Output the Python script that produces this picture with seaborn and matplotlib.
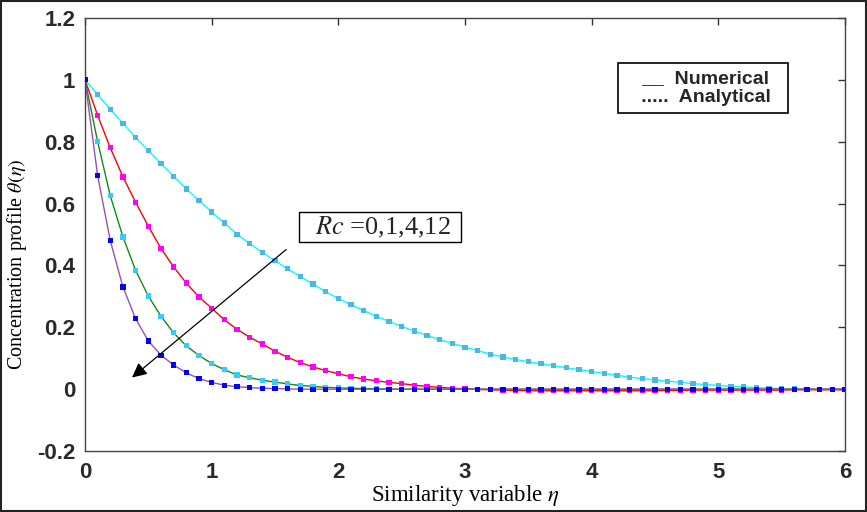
import matplotlib
matplotlib.use('Agg')
import matplotlib.pyplot as plt
import numpy as np
import pandas as pd
import seaborn as sns
from matplotlib.patches import Rectangle

# similarity variable, read every 0.1
eta = np.round(np.arange(0, 6.01, 0.1), 2)

theta_rc0 = [1.000, 0.952, 0.905, 0.859, 0.814, 0.771, 0.729, 0.688, 0.647, 0.610,
             0.573, 0.537, 0.501, 0.471, 0.442, 0.415, 0.389, 0.364, 0.340, 0.315,
             0.293, 0.273, 0.254, 0.236, 0.219, 0.203, 0.188, 0.174, 0.160, 0.148,
             0.136, 0.125, 0.113, 0.104, 0.096, 0.089, 0.082, 0.076, 0.069, 0.063,
             0.057, 0.051, 0.045, 0.039, 0.034, 0.030, 0.026, 0.022, 0.018, 0.015,
             0.012, 0.009, 0.0075, 0.005, 0.003, 0.002, 0.001, 0.0, 0.0, 0.0, 0.0]

theta_rc1 = [1.000, 0.885, 0.780, 0.686, 0.604, 0.527, 0.455, 0.395, 0.343, 0.298,
             0.262, 0.224, 0.194, 0.168, 0.146, 0.123, 0.103, 0.086, 0.072, 0.060,
             0.050, 0.040, 0.033, 0.027, 0.022, 0.018, 0.013, 0.009, 0.006, 0.003,
             0.001, -0.001, -0.002, -0.003, -0.004, -0.005, -0.005, -0.005, -0.005, -0.005,
             -0.005, -0.005, -0.005, -0.005, -0.005, -0.005, -0.004, -0.004, -0.003, -0.003,
             -0.003, -0.003, -0.003, -0.003, -0.003, -0.003, -0.002, -0.002, -0.002, -0.002, -0.002]

theta_rc4 = [1.000, 0.800, 0.625, 0.492, 0.384, 0.301, 0.236, 0.182, 0.140, 0.109,
             0.083, 0.063, 0.046, 0.037, 0.029, 0.023, 0.017, 0.012, 0.009, 0.006,
             0.004, 0.003, 0.002, 0.001, 0.0, 0.0, 0.0, 0.0, 0.0, 0.0,
             0.0, 0.0, 0.0, 0.0, 0.0, 0.0, 0.0, 0.0, 0.0, 0.0,
             0.0, 0.0, 0.0, 0.0, 0.0, 0.0, 0.0, 0.0, 0.0, 0.0,
             0.0, 0.0, 0.0, 0.0, 0.0, 0.0, 0.0, 0.0, 0.0, 0.0, 0.0]

theta_rc12 = [1.000, 0.690, 0.480, 0.330, 0.228, 0.156, 0.110, 0.078, 0.053, 0.034,
              0.022, 0.013, 0.008, 0.005, 0.003, 0.002, 0.001, 0.0, 0.0, 0.0,
              0.0, 0.0, 0.0, 0.0, 0.0, 0.0, 0.0, 0.0, 0.0, 0.0,
              0.0, 0.0, 0.0, 0.0, 0.0, 0.0, 0.0, 0.0, 0.0, 0.0,
              0.0, 0.0, 0.0, 0.0, 0.0, 0.0, 0.0, 0.0, 0.0, 0.0,
              0.0, 0.0, 0.0, 0.0, 0.0, 0.0, 0.0, 0.0, 0.0, 0.0, 0.0]

rc_values = ['0', '1', '4', '12']
line_colors = ['#00FFFF', '#FF0000', '#138A13', '#9B4FB5']
marker_colors = ['#4DB6E6', '#FF00FF', '#33CCFF', '#0000FF']
yticks = [-0.2, 0, 0.2, 0.4, 0.6, 0.8, 1, 1.2]
ytick_labels = ['-0.2', '0', '0.2', '0.4', '0.6', '0.8', '1', '1.2']
xticks = [0, 1, 2, 3, 4, 5, 6]


def main():
    sns.set_theme(style='white')
    plt.rcParams['font.family'] = ['Liberation Sans', 'DejaVu Sans']
    plt.rcParams['mathtext.fontset'] = 'stix'

    df = pd.DataFrame({'eta': np.tile(eta, 4),
                       'theta': theta_rc0 + theta_rc1 + theta_rc4 + theta_rc12,
                       'Rc': np.repeat(rc_values, len(eta))})

    fig = plt.figure(figsize=(8.67, 5.12), dpi=100)
    ax = fig.add_axes([0.098, 0.119, 0.8766, 0.846])

    # numerical solution: solid lines
    sns.lineplot(data=df, x='eta', y='theta', hue='Rc', palette=line_colors,
                 linewidth=1.0, legend=False, ax=ax, zorder=2)
    # analytical solution: dotted markers
    sns.scatterplot(data=df, x='eta', y='theta', hue='Rc', palette=marker_colors,
                    marker='s', s=14, linewidth=0, legend=False, ax=ax, zorder=3)

    ax.set_xlim(0, 6)
    ax.set_ylim(-0.2, 1.2)
    ax.set_xticks(xticks)
    ax.set_yticks(yticks)
    ax.set_yticklabels(ytick_labels)
    ax.tick_params(direction='in', length=5, width=1, top=True, right=True,
                   labelsize=16, colors='#333333')
    ax.tick_params(axis='x', pad=8)
    ax.tick_params(axis='y', pad=7)
    for lab in ax.get_xticklabels() + ax.get_yticklabels():
        lab.set_fontweight('bold')
        lab.set_color('#2a2a2a')
    for sp in ax.spines.values():
        sp.set_color('#444444')
        sp.set_linewidth(1.0)

    ax.set_xlabel(r'Similarity variable $\eta$', family='Liberation Serif',
                  fontsize=16.5, labelpad=0, color='black')
    ax.set_ylabel(r'Concentration profile $\theta(\eta)$', family='Liberation Serif',
                  fontsize=14.5, color='black')
    ax.yaxis.set_label_coords(-0.074, 0.43)

    # legend written as a text box
    ax.text(4.88, 0.973, '   __  Numerical  \n   .....  Analytical  ', ha='center', va='center',
            fontsize=14, fontweight='bold', linespacing=1.2,
            bbox=dict(boxstyle='square,pad=0.35', fc='white', ec='black', lw=1.2))

    ax.annotate('', xy=(0.355, 0.032), xytext=(1.605, 0.457),
                arrowprops=dict(arrowstyle='-|>', color='black', lw=0.9,
                                mutation_scale=22))
    ax.text(2.33, 0.524, r'  $Rc$ =0,1,4,12  ', ha='center', va='center',
            family='Liberation Serif', fontsize=19,
            bbox=dict(boxstyle='square,pad=0.1', fc='white', ec='black', lw=1.0))

    fig.patches.append(Rectangle((0.001, 0.001), 0.998, 0.998, transform=fig.transFigure,
                                 fill=False, ec='#222222', lw=1.5))

    fig.savefig('out.png', dpi=100)


if __name__ == '__main__':
    main()
